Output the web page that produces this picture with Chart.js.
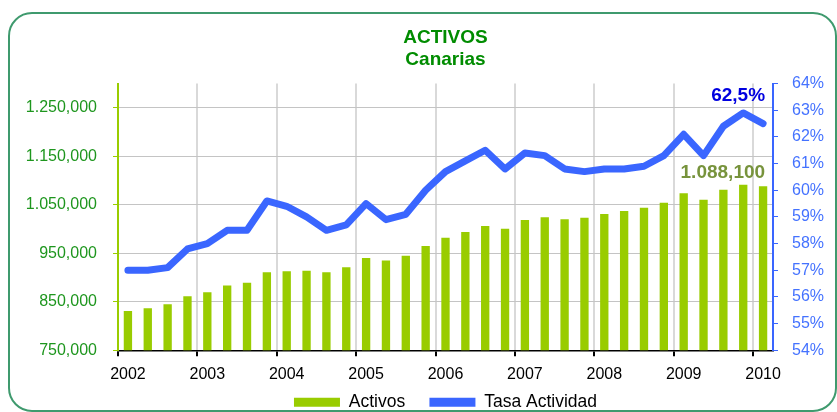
<!DOCTYPE html>
<html>
<head>
<meta charset="utf-8">
<script src="https://cdn.jsdelivr.net/npm/chart.js@4.4.0/dist/chart.umd.min.js"></script>
<style>
  html, body { margin: 0; padding: 0; background: #fff; }
  #wrap { position: relative; width: 837px; height: 412px; overflow: hidden; }
  #frame { position: absolute; left: 8px; top: 12px; width: 829px; height: 400px;
           border: 2px solid #3f9a6e; border-radius: 24px; box-sizing: border-box; }
  canvas { position: absolute; left: 0; top: 0; }
</style>
</head>
<body>
<div id="wrap">
  <div id="frame"></div>
  <canvas id="activosChart" width="837" height="412"></canvas>
</div>
<script>
// Activos (bars, left axis) and Tasa Actividad (line, right axis), quarterly 2002 T1 - 2010 T1
const years = ['2002', '2003', '2004', '2005', '2006', '2007', '2008', '2009', '2010'];
const quarters = [];
years.forEach(y => ['T1', 'T2', 'T3', 'T4'].forEach(q => quarters.push(y + ' ' + q)));
quarters.length = 33;

const activos = [
    831200, 836800, 845000, 861600,
    869800, 883700, 889100, 911200,
    913200, 913800, 911200, 921500,
    940100, 935300, 944800, 964900,
    982000, 993800, 1006200, 1000600,
    1018600, 1024200, 1020000, 1023300,
    1031000, 1037200, 1044000, 1054300,
    1073800, 1060500, 1081200, 1091500,
    1088100
];

const tasa = [
    57.0, 57.0, 57.1, 57.8,
    58.0, 58.5, 58.5, 59.6,
    59.4, 59.0, 58.5, 58.7,
    59.5, 58.9, 59.1, 60.0,
    60.7, 61.1, 61.5, 60.8,
    61.4, 61.3, 60.8, 60.7,
    60.8, 60.8, 60.9, 61.3,
    62.1, 61.3, 62.4, 62.9,
    62.5
];

const activosTicks = [750000, 850000, 950000, 1050000, 1150000, 1250000];
const activosMax = 1300000;
const tasaMin = 54;
const tasaMax = 64;

const FONT = '"Liberation Sans", Arial, sans-serif';

function pad3(n) {
    return String(n).padStart(3, '0');
}

// 1.088,100 style used by the original
function fmtMiles(v) {
    const m = Math.floor(v / 1e6);
    const k = Math.floor(v / 1000) % 1000;
    const u = v % 1000;
    return m > 0 ? m + '.' + pad3(k) + ',' + pad3(u) : k + ',' + pad3(u);
}

const endLabels = {
    id: 'endLabels',
    afterDatasetsDraw(chart) {
        const ctx = chart.ctx;
        const bar = chart.getDatasetMeta(0).data[activos.length - 1];
        const pt = chart.getDatasetMeta(1).data[tasa.length - 1];
        ctx.save();
        ctx.textAlign = 'right';
        ctx.textBaseline = 'alphabetic';
        ctx.font = 'bold 19px ' + FONT;
        ctx.fillStyle = '#77933C';
        ctx.fillText(fmtMiles(activos[activos.length - 1]), bar.x + 2, bar.y - 8);
        ctx.fillStyle = '#0000E0';
        ctx.fillText(tasa[tasa.length - 1].toFixed(1).replace('.', ',') + '%', pt.x + 2, pt.y - 23);
        ctx.restore();
    }
};

const ctx = document.getElementById('activosChart').getContext('2d');
new Chart(ctx, {
    type: 'bar',
    data: {
        labels: quarters,
        datasets: [{
            label: 'Activos',
            data: activos,
            backgroundColor: '#99CC00',
            borderWidth: 0,
            barPercentage: 0.84,
            categoryPercentage: 0.5,
            yAxisID: 'y',
            order: 1
        }, {
            type: 'line',
            label: 'Tasa Actividad',
            data: tasa,
            borderColor: '#3A66FF',
            backgroundColor: '#3A66FF',
            borderWidth: 7,
            borderJoinStyle: 'round',
            borderCapStyle: 'round',
            tension: 0,
            pointRadius: 0,
            yAxisID: 'y1',
            order: 0
        }]
    },
    options: {
        responsive: false,
        animation: false,
        layout: {
            padding: { left: 0, right: 0, top: 0, bottom: -9 }
        },
        plugins: {
            title: {
                display: true,
                fullSize: false,
                text: ['ACTIVOS', 'Canarias'],
                color: '#008C00',
                font: { family: FONT, size: 19, weight: 'bold', lineHeight: 1.2 },
                padding: { top: 26, bottom: 12 }
            },
            legend: {
                position: 'bottom',
                fullSize: false,
                labels: {
                    color: '#000',
                    font: { family: FONT, size: 17.5 },
                    boxWidth: 46,
                    boxHeight: 9,
                    padding: 0,
                    sort: (a, b) => a.datasetIndex - b.datasetIndex,
                    generateLabels: chart => {
                        const items = Chart.defaults.plugins.legend.labels.generateLabels(chart);
                        items.forEach(it => {
                            if (it.datasetIndex === 0) it.text = it.text + '     ';
                            it.lineWidth = 0;
                        });
                        return items;
                    }
                }
            },
            tooltip: { enabled: false }
        },
        scales: {
            x: {
                offset: true,
                grid: {
                    offset: true,
                    color: c => (c.index % 4 === 0 ? '#d9d9d9' : 'rgba(0,0,0,0)'),
                    tickColor: c => (c.index % 4 === 0 ? '#000' : 'rgba(0,0,0,0)'),
                    lineWidth: 2,
                    tickLength: 6
                },
                border: { color: '#000', width: 1.5 },
                ticks: {
                    autoSkip: false,
                    maxRotation: 0,
                    color: '#000',
                    padding: 9,
                    font: { family: FONT, size: 16 },
                    callback: (v, i) => (i % 4 === 0 ? years[i / 4] : '')
                }
            },
            y: {
                position: 'left',
                min: activosTicks[0],
                max: activosMax,
                afterBuildTicks: scale => {
                    scale.ticks = activosTicks.map(v => ({ value: v }));
                },
                afterFit: scale => { scale.width = 118; },
                grid: {
                    color: '#c4c4c4',
                    borderDash: [2, 2],
                    tickColor: '#99CC00',
                    tickBorderDash: [],
                    tickLength: 5,
                    lineWidth: 1
                },
                border: { color: '#99CC00', width: 2 },
                ticks: {
                    color: '#1E961E',
                    padding: 16,
                    font: { family: FONT, size: 16 },
                    callback: v => fmtMiles(v)
                }
            },
            y1: {
                position: 'right',
                min: tasaMin,
                max: tasaMax,
                afterFit: scale => { scale.width = 64; },
                grid: {
                    drawOnChartArea: false,
                    tickColor: '#3A66FF',
                    tickLength: 5
                },
                border: { color: '#3A66FF', width: 2 },
                ticks: {
                    stepSize: 1,
                    color: '#4472FF',
                    padding: 14,
                    font: { family: FONT, size: 16 },
                    callback: v => v + '%'
                }
            }
        }
    },
    plugins: [endLabels]
});
</script>
</body>
</html>
